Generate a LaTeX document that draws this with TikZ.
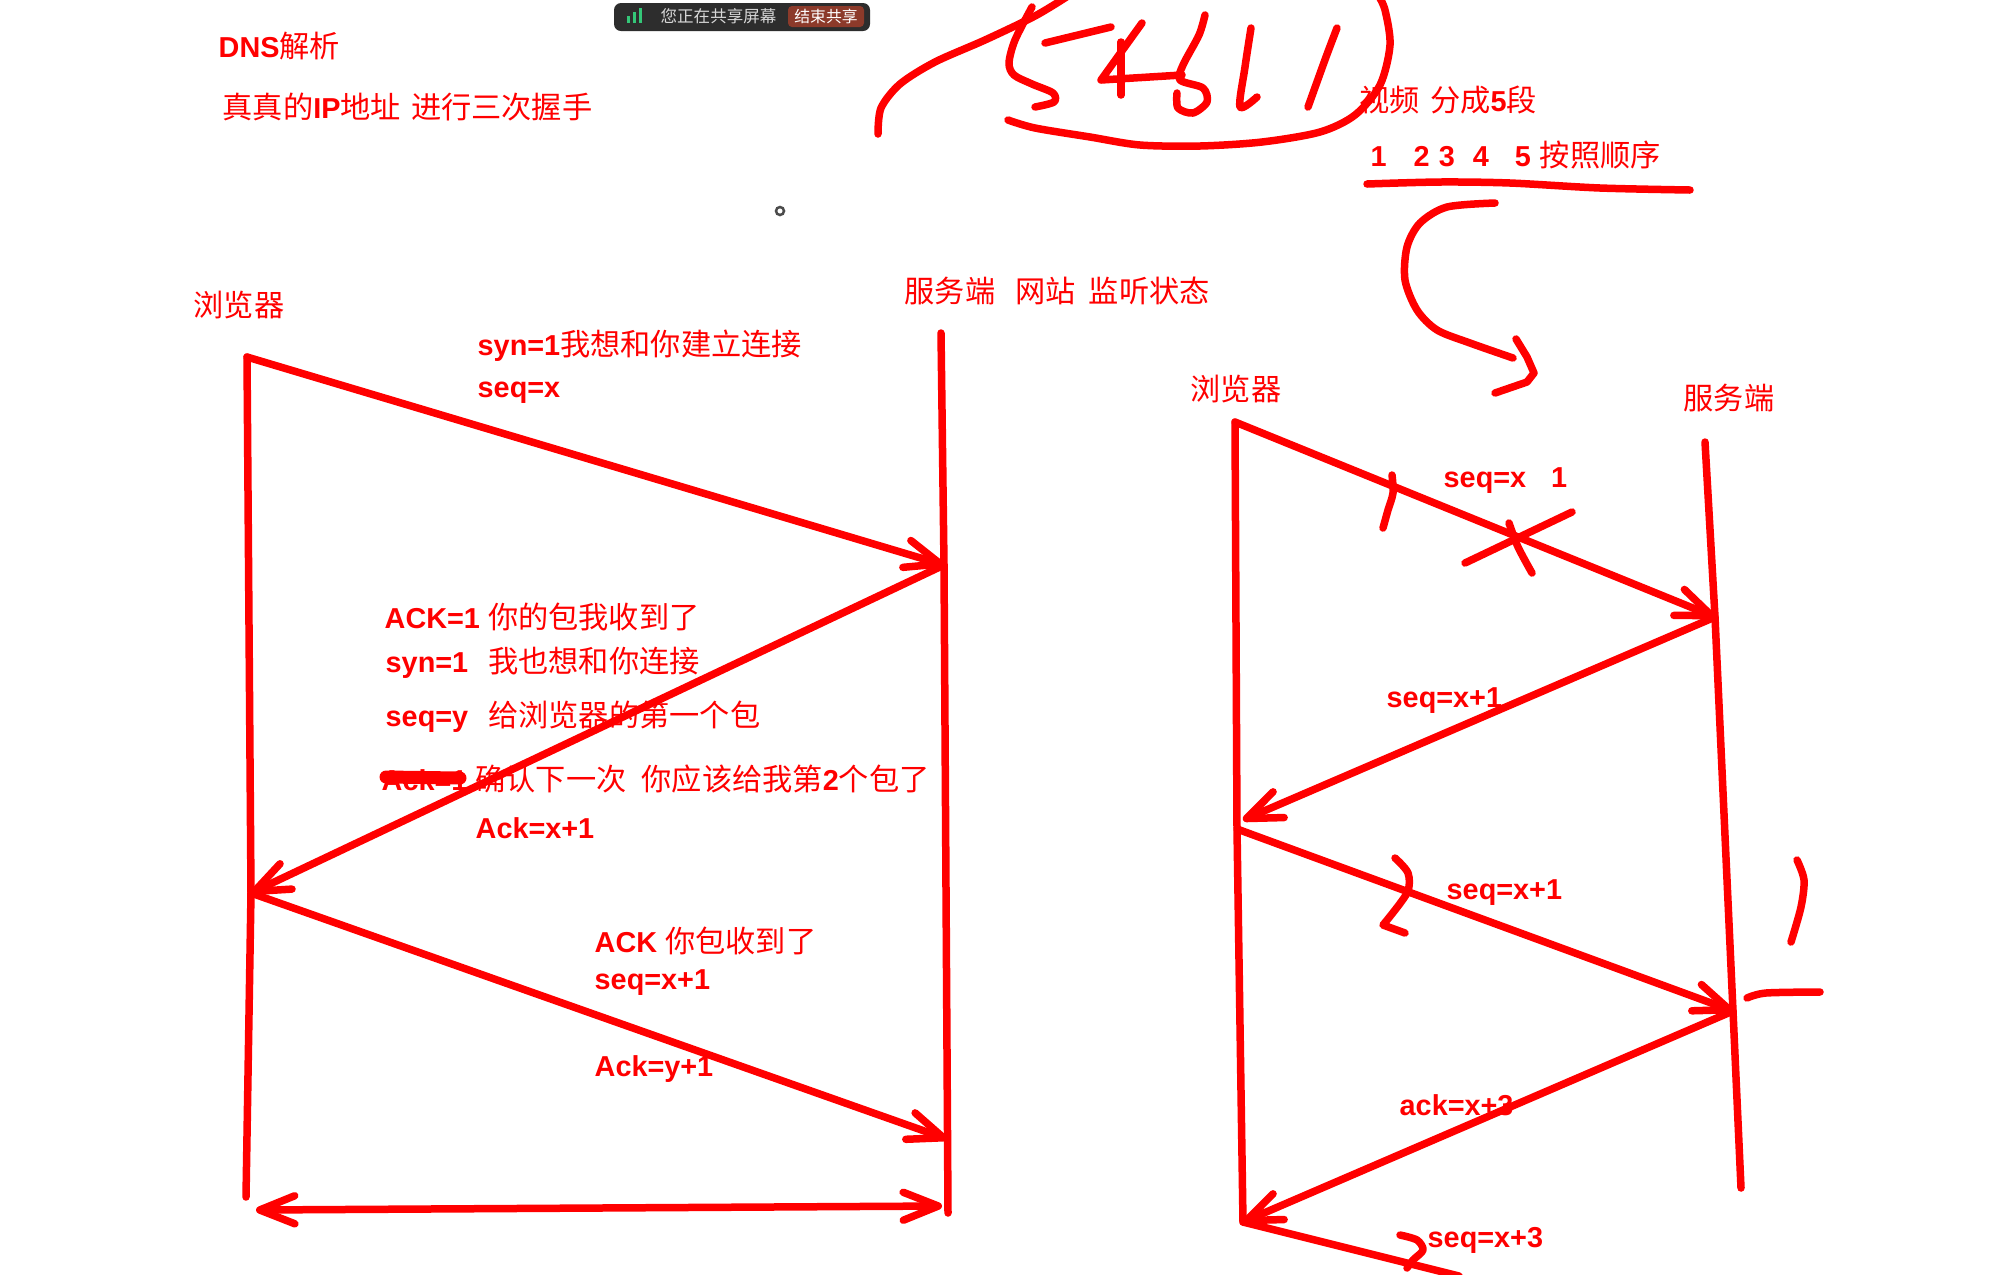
\documentclass[tikz,border=0pt]{standalone}
\usepackage{fontspec}
\setmainfont{Liberation Sans}
\newfontfamily\cjk{Noto Sans CJK SC}
\usepackage{tikz}
\usetikzlibrary{arrows.meta,positioning}
\usepackage{xcolor}
\definecolor{penred}{RGB}{255,0,0}
\definecolor{bardark}{RGB}{45,45,45}
\definecolor{bargreen}{RGB}{52,199,120}
\definecolor{barbtn}{RGB}{140,58,42}
\definecolor{bartext}{RGB}{215,215,215}
\newcommand{\zh}[1]{{\cjk\mdseries\fontsize{8.6}{10}\selectfont #1}}
\tikzstyle{pen} = [line width=0.75mm, color=penred, line cap=round, line join=round]
\tikzstyle{arrow} = [pen, -{Straight Barb[length=3.5mm, width=2.8mm, round]}]
\tikzstyle{darrow} = [pen, {Straight Barb[length=3.5mm, width=2.8mm, round]}-{Straight Barb[length=3.5mm, width=2.8mm, round]}]
\tikzstyle{note} = [anchor=west, inner sep=0pt, text=penred, font=\fontsize{8.2}{9.5}\selectfont\bfseries]

\begin{document}
\begin{tikzpicture}[x=0.1mm, y=-0.1mm]
    \fill[white] (0,0) rectangle (2007,1274);
    \useasboundingbox (0,0) rectangle (2007,1274);

    % screen sharing bar
    \fill[bardark, rounded corners=0.7mm] (614,3) rectangle (870,31);
    \fill[bargreen] (627,16) rectangle (630,23);
    \fill[bargreen] (633,12) rectangle (636,23);
    \fill[bargreen] (639,8) rectangle (642,23);
    \node[anchor=west, inner sep=0pt, text=bartext, font=\cjk\fontsize{4.7}{6}\selectfont] (share) at (660,16) {您正在共享屏幕};
    \fill[barbtn, rounded corners=0.4mm] (788,6) rectangle (864,27);
    \node[inner sep=0pt, text=white, font=\cjk\fontsize{4.5}{6}\selectfont] (stopshare) at (826,16) {结束共享};
    \node[circle, draw=black!70, line width=0.25mm, minimum size=0.8mm, inner sep=0pt] (dot) at (780,211) {};

    \node[note] (dns) at (218,46) {DNS\zh{解析}};
    \node[note] (realip) at (222,107) {\zh{真真的}IP\zh{地址}\hspace{1mm}\zh{进行三次握手}};

    % three-way handshake
    \node[note] (brow) at (193,305) {\zh{浏览器}};
    \node[note] (serv) at (904,291) {\zh{服务端}\hspace{2mm}\zh{网站}\hspace{1.3mm}\zh{监听状态}};
    \coordinate (bTop) at (247,357);
    \coordinate (bMid) at (251,893);
    \coordinate (bBot) at (246,1197);
    \coordinate (sTop) at (941,333);
    \coordinate (s1) at (944,565);
    \coordinate (s3) at (947,1139);
    \coordinate (sBot) at (948,1213);
    \coordinate (dl) at (256,1210);
    \coordinate (dr) at (942,1206);
    \draw[pen] (bTop) -- (bMid) -- (bBot);
    \draw[pen] (sTop) -- (s1) -- (sBot);
    \draw[arrow] (bTop) -- (s1);
    \draw[arrow] (s1) -- (bMid);
    \draw[arrow] (bMid) -- (s3);
    \draw[darrow] (dl) -- (dr);

    \node[note] (syn1) at (477,346) {syn=1\zh{我想和你建立连接}};
    \node[note] (seqx) at (477,393) {seq=x};
    \node[note] (ack1) at (384,617) {ACK=1 \zh{你的包我收到了}};
    \node[note] (syn2) at (385,663) {syn=1\hspace{2mm}\zh{我也想和你连接}};
    \node[note] (seqy) at (385,717) {seq=y\hspace{2mm}\zh{给浏览器的第一个包}};
    \node[note] (ackone) at (381,779) {Ack=1 \zh{确认下一次}\hspace{1.5mm}\zh{你应该给我第}2\zh{个包了}};
    \draw[pen, line width=1.3mm] (386,777) -- (460,778);
    \node[note] (ackx) at (475,828) {Ack=x+1};
    \node[note] (ackpk) at (594,941) {ACK \zh{你包收到了}};
    \node[note] (seqx1) at (594,983) {seq=x+1};
    \node[note] (acky) at (594,1069) {Ack=y+1};

    % hand written 54321
    \draw[pen] plot[smooth] coordinates {(878,134) (881,108) (900,84) (935,62) (985,40) (1035,16) (1068,-4)};
    \draw[pen] plot[smooth] coordinates {(1032,7) (1015,40) (1009,63) (1014,75) (1032,84) (1053,93) (1054,102) (1035,107)};
    \draw[pen] (1045,43) -- (1111,27);
    \draw[pen] (1142,23) -- (1101,80) -- (1182,75);
    \draw[pen] (1121,42) -- (1121,95);
    \draw[pen] plot[smooth] coordinates {(1205,15) (1199,35) (1183,65) (1180,80) (1203,88) (1207,102) (1193,113) (1178,108) (1177,93)};
    \draw[pen] plot[smooth] coordinates {(1251,28) (1245,67) (1240,107) (1257,97)};
    \draw[pen] plot[smooth] coordinates {(1337,28) (1326,57) (1308,107)};
    \draw[pen] plot[smooth] coordinates {(1008,120) (1035,128) (1090,137) (1140,145) (1200,146) (1262,142) (1320,132) (1355,115) (1380,85) (1390,45) (1385,10) (1378,-5)};

    \node[note] (video) at (1359,100) {\zh{视频}\hspace{1mm}\zh{分成}5\zh{段}};
    \node[note] (order) at (1370,155) {1\hspace{2.7mm}2\hspace{0.9mm}3\hspace{1.8mm}4\hspace{2.6mm}5\hspace{0.9mm}\zh{按照顺序}};
    \draw[pen] plot[smooth] coordinates {(1367,184) (1440,182) (1510,183) (1600,188) (1690,190)};
    \draw[pen] plot[smooth] coordinates {(1495,203) (1447,207) (1420,223) (1407,247) (1405,280) (1417,310) (1437,330) (1470,343) (1513,358)};
    \draw[pen] (1516,339) -- (1527,357) -- (1534,373) -- (1527,382) -- (1495,393);

    % segments sent in order
    \node[note] (rbrow) at (1190,389) {\zh{浏览器}};
    \node[note] (rserv) at (1683,398) {\zh{服务端}};
    \coordinate (rbTop) at (1235,422);
    \coordinate (rb1) at (1243,820);
    \coordinate (rb2) at (1237,829);
    \coordinate (rbBot) at (1243,1222);
    \coordinate (rsTop) at (1705,442);
    \coordinate (rs1) at (1715,617);
    \coordinate (rs2) at (1733,1011);
    \coordinate (rsBot) at (1741,1188);
    \coordinate (rOut) at (1459,1276);
    \draw[pen] (rbTop) -- (rb2) -- (rbBot);
    \draw[pen] (rsTop) -- (rs1) -- (rs2) -- (rsBot);
    \draw[arrow] (rbTop) -- (rs1);
    \draw[arrow] (rs1) -- (rb1);
    \draw[arrow] (rb2) -- (rs2);
    \draw[arrow] (rs2) -- (rbBot);
    \draw[pen] (rbBot) -- (rOut);

    \node[note] (rseqx) at (1443,481) {seq=x\hspace{2.5mm}1};
    \node[note] (rseq1) at (1386,701) {seq=x+1};
    \node[note] (rseq2) at (1446,893) {seq=x+1};
    \node[note] (rack3) at (1399,1105) {ack=x+3};
    \node[note] (rseq3) at (1427,1240) {seq=x+3};

    % marks
    \draw[pen] plot[smooth] coordinates {(1392,475) (1393,493) (1388,510) (1383,528)};
    \draw[pen] (1572,512) -- (1465,563);
    \draw[pen] plot[smooth] coordinates {(1509,523) (1518,547) (1532,573)};
    \draw[pen] plot[smooth] coordinates {(1395,858) (1408,873) (1407,893) (1383,925)} -- (1405,933);
    \draw[pen] plot[smooth] coordinates {(1797,860) (1804,880) (1801,907) (1791,942)};
    \draw[pen] plot[smooth] coordinates {(1747,998) (1766,993) (1820,992)};
    \draw[pen] plot[smooth] coordinates {(1400,1235) (1417,1240) (1423,1250) (1413,1260) (1407,1268)};
\end{tikzpicture}
\end{document}
